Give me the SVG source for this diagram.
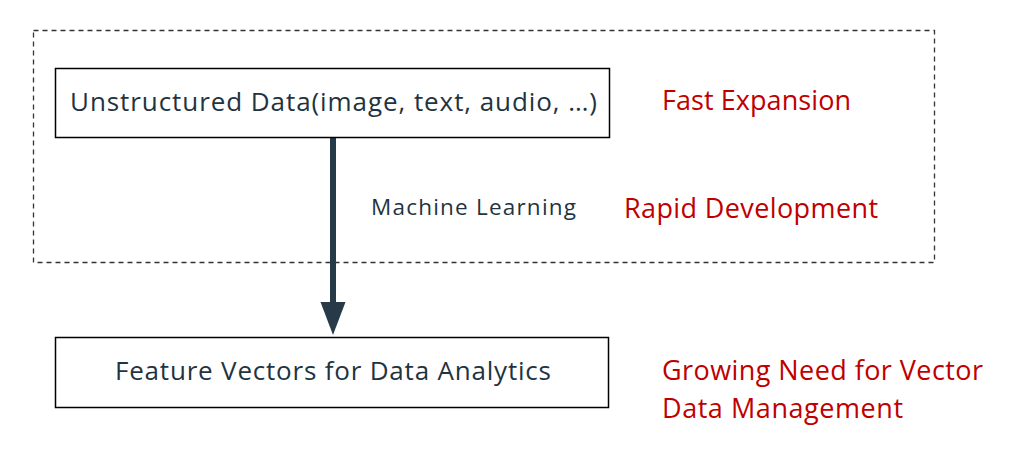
<svg xmlns="http://www.w3.org/2000/svg" width="1030" height="460" viewBox="0 0 1030 460">
<style>
.box{fill:#fff;stroke:#000;stroke-width:1.5}
.dash{fill:none;stroke:#333;stroke-width:1.3;stroke-dasharray:5 4}
.t{font-family:"Open Sans","Noto Sans","Liberation Sans",sans-serif;fill:#1f3440}
.r{font-family:"Open Sans","Noto Sans","Liberation Sans",sans-serif;fill:#c00000;font-size:27px}
</style>
<defs>
<marker id="ah" markerUnits="userSpaceOnUse" markerWidth="34" markerHeight="26" refX="1" refY="12.5" orient="auto">
<path d="M0,0 L33,12.5 L0,25 Z" fill="#263a47"/>
</marker>
</defs>
<rect width="1030" height="460" fill="#fff"/>
<g id="group-frame">
<rect class="dash" x="33.5" y="30.5" width="901" height="232"/>
</g>
<g id="connectors">
<line x1="333" y1="138" x2="333" y2="303" stroke="#263a47" stroke-width="6" marker-end="url(#ah)"/>
<text class="t" x="371" y="215" font-size="22.5" textLength="205">Machine Learning</text>
</g>
<g id="node-unstructured">
<rect class="box" x="55.5" y="68.5" width="554" height="69"/>
<text class="t" x="70" y="111" font-size="26" textLength="527">Unstructured Data(image, text, audio, …)</text>
</g>
<g id="node-feature">
<rect class="box" x="55.5" y="337.5" width="553" height="70"/>
<text class="t" x="115" y="380" font-size="26" textLength="436">Feature Vectors for Data Analytics</text>
</g>
<g id="notes">
<text class="r" x="662" y="110" textLength="189">Fast Expansion</text>
<text class="r" x="624" y="218" textLength="254">Rapid Development</text>
<text class="r" x="662" y="380" textLength="321">Growing Need for Vector</text>
<text class="r" x="662" y="418" textLength="241">Data Management</text>
</g>
</svg>
